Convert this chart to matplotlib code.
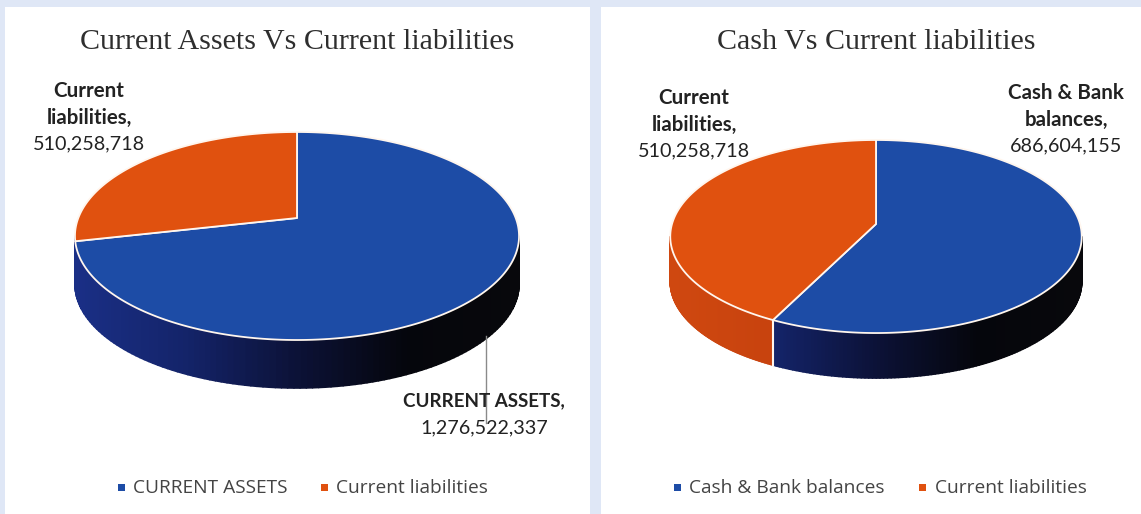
import numpy as np
from matplotlib import pyplot as plt
from matplotlib.collections import PolyCollection
from matplotlib.colors import LinearSegmentedColormap
from matplotlib.patches import Rectangle

W, H = 1141, 514

titles = ["Current Assets Vs Current liabilities", "Cash Vs Current liabilities"]
left_names = ["CURRENT ASSETS", "Current liabilities"]
left_values = [1276522337, 510258718]
right_names = ["Cash & Bank balances", "Current liabilities"]
right_values = [686604155, 510258718]

BLUE = "#1d4ca6"
ORANGE = "#e0510f"
blue_wall = LinearSegmentedColormap.from_list("bw", ["#1a2f86", "#14246a", "#0c1238", "#05060c", "#08080c"])
orange_wall = LinearSegmentedColormap.from_list("ow", ["#cf4810", "#c03d0c", "#a8300a"])

SANS = "Lato"
SERIF = "Liberation Serif"
TEXT = "#222222"

fig = plt.figure(figsize=(W / 100, H / 100), dpi=100, facecolor="#dfe7f6")
ax = fig.add_axes([0, 0, 1, 1])
ax.set_xlim(0, W)
ax.set_ylim(H, 0)
ax.axis("off")

ax.add_patch(Rectangle((5, 7), 585, 510, fc="white", ec="none"))
ax.add_patch(Rectangle((601, 7), 545, 510, fc="white", ec="none"))


def project(a, cx, cy, A, B, k):
    # a is clockwise from 12 o'clock, the disc is tilted with some perspective
    u, v = np.sin(a), np.cos(a)
    d = 1 + k * v
    return cx + B * u / d, cy - A * v / d


def pie3d(values, cx, cy, A, B, k, depth):
    total = sum(values)
    edges = np.cumsum([0] + list(values)) / total * 2 * np.pi
    cmaps = [blue_wall, orange_wall]
    faces = [BLUE, ORANGE]

    # find the part of the rim that faces the viewer
    aa = np.linspace(0, 2 * np.pi, 1441)
    xx, yy = project(aa, cx, cy, A, B, k)
    a_right, a_left = aa[np.argmax(xx)], aa[np.argmin(xx)]
    x_min, x_max = xx.min(), xx.max()

    for i in range(len(values)):
        a0, a1 = edges[i], edges[i + 1]
        # a slice ending just short of the left edge keeps the wall to itself
        if 0 < a_left - a1 < 0.15:
            a1 = a_left
        if a_left - a0 < 0.15:
            continue
        lo, hi = max(a0, a_right), min(a1, a_left)
        if hi > lo:
            a = np.linspace(lo, hi, 120)
            x, y = project(a, cx, cy, A, B, k)
            quads = [[(x[j], y[j]), (x[j + 1], y[j + 1]), (x[j + 1], y[j + 1] + depth), (x[j], y[j] + depth)]
                     for j in range(len(a) - 1)]
            cols = cmaps[i]((x[:-1] - x_min) / (x_max - x_min))
            ax.add_collection(PolyCollection(quads, facecolors=cols, edgecolors=cols, linewidths=1.2))

    for i in range(len(values)):
        a = np.linspace(edges[i], edges[i + 1], 400)
        x, y = project(a, cx, cy, A, B, k)
        ax.fill(np.r_[cx, x], np.r_[cy, y], fc=faces[i], ec="#fff6ee", lw=1.3, joinstyle="round")

    # white seam down the wall between two slices
    for e in edges[:-1]:
        if a_right < e < a_left - 0.15:
            x, y = project(e, cx, cy, A, B, k)
            ax.plot([x, x], [y, y + depth], color="#fff6ee", lw=1.5)


pie3d(left_values, 297, 218, 100.9, 218.7, 0.173, 48)
pie3d(right_values, 876, 224, 94.9, 204, 0.1296, 45)


def fmt(v):
    return f"{v:,}"


ax.text(297, 42, titles[0], family=SERIF, fontsize=21.6, color="#2e2e2e", ha="center", va="center")
ax.text(876, 42, titles[1], family=SERIF, fontsize=21.6, color="#2e2e2e", ha="center", va="center")

# leader line sits under the label text
ax.plot([486, 486], [336, 423], color="#8a8a8a", lw=1)


def label(x, y, lines, n_bold, bold_size=14.8):
    for i, s in enumerate(lines):
        bold = i < n_bold
        ax.text(x, y + i * 26.5, s, family=SANS, fontsize=bold_size if bold else 14.2, color=TEXT, ha="center",
                va="center", fontweight="bold" if bold else "normal")


label(89, 91, ["Current", "liabilities,", fmt(left_values[1])], 2)
label(484, 401, [left_names[0] + ",", fmt(left_values[0])], 1, bold_size=13.5)
label(694, 98, ["Current", "liabilities,", fmt(right_values[1])], 2)
label(1066, 93, ["Cash & Bank", "balances,", fmt(right_values[0])], 2)


def legend(items):
    for sx, tx, name, c in items:
        ax.add_patch(Rectangle((sx - 3, 484), 7, 7, fc=c, ec="none"))
        ax.text(tx, 488, name, family="Open Sans", fontsize=13.8, color="#444444", ha="left", va="center")


legend([(121, 133, left_names[0], BLUE), (324, 336, left_names[1], ORANGE)])
legend([(677, 689, right_names[0], BLUE), (922, 935, right_names[1], ORANGE)])

fig.savefig("out.png", dpi=100, facecolor=fig.get_facecolor())
